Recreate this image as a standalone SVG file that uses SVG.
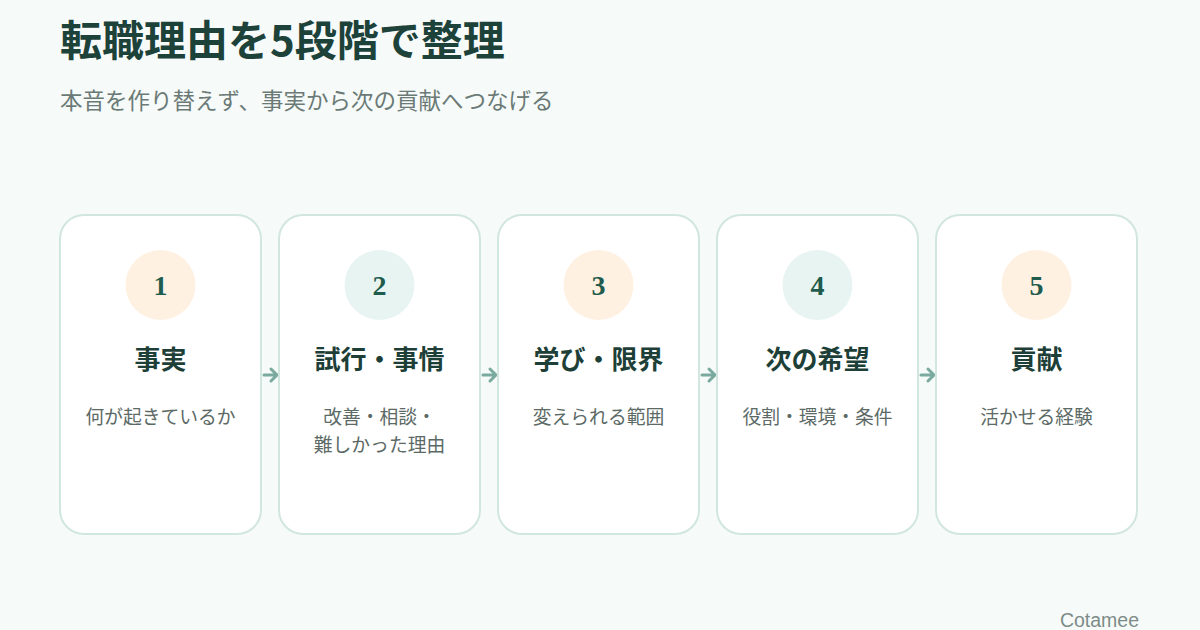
<svg xmlns="http://www.w3.org/2000/svg" width="1200" height="630" viewBox="0 0 1200 630">
<defs>
<style>
.card{fill:#ffffff;stroke:#d2e6e0;stroke-width:2}
.c1{fill:#fff1e2}
.c2{fill:#e7f4f1}
.num{font-family:"Liberation Serif","Noto Sans CJK JP",serif;font-weight:bold;font-size:28px;fill:#1f5c4d;text-anchor:middle}
.ttl{font-family:"Liberation Serif","Noto Sans CJK JP",serif;font-weight:bold;font-size:26px;fill:#1d3f37;text-anchor:middle}
.sub{font-family:"Liberation Serif","Noto Sans CJK JP",serif;font-size:18.8px;fill:#5c6a66;text-anchor:middle}
.arr{stroke:#7aa99d;stroke-width:3;fill:none;stroke-linecap:round;stroke-linejoin:round}
</style>
</defs>
<rect width="1200" height="630" fill="#f6faf9"/>
<text x="60" y="56" font-family="'Noto Sans CJK JP',sans-serif" font-weight="bold" font-size="42" fill="#1d4239">転職理由を5段階で整理</text>
<text x="60" y="109" font-family="'Noto Sans CJK JP',sans-serif" font-size="22.5" fill="#6b7a76">本音を作り替えず、事実から次の貢献へつなげる</text>
<g id="connectors">
<path class="arr" d="M264 375H276M271 369L277 375L271 381"/>
<path class="arr" d="M483 375H495M490 369L496 375L490 381"/>
<path class="arr" d="M702 375H714M709 369L715 375L709 381"/>
<path class="arr" d="M921 375H933M928 369L934 375L928 381"/>
</g>
<g id="step1">
<rect class="card" x="60" y="215" width="201" height="319" rx="24"/>
<circle class="c1" cx="160.5" cy="285" r="35"/>
<text class="num" x="160.5" y="295">1</text>
<text class="ttl" x="160.5" y="369">事実</text>
<text class="sub" x="160.5" y="424">何が起きているか</text>
</g>
<g id="step2">
<rect class="card" x="279" y="215" width="201" height="319" rx="24"/>
<circle class="c2" cx="379.5" cy="285" r="35"/>
<text class="num" x="379.5" y="295">2</text>
<text class="ttl" x="379.5" y="369">試行・事情</text>
<text class="sub" x="379.5" y="424">改善・相談・</text>
<text class="sub" x="379.5" y="452">難しかった理由</text>
</g>
<g id="step3">
<rect class="card" x="498" y="215" width="201" height="319" rx="24"/>
<circle class="c1" cx="598.5" cy="285" r="35"/>
<text class="num" x="598.5" y="295">3</text>
<text class="ttl" x="598.5" y="369">学び・限界</text>
<text class="sub" x="598.5" y="424">変えられる範囲</text>
</g>
<g id="step4">
<rect class="card" x="717" y="215" width="201" height="319" rx="24"/>
<circle class="c2" cx="817.5" cy="285" r="35"/>
<text class="num" x="817.5" y="295">4</text>
<text class="ttl" x="817.5" y="369">次の希望</text>
<text class="sub" x="817.5" y="424">役割・環境・条件</text>
</g>
<g id="step5">
<rect class="card" x="936" y="215" width="201" height="319" rx="24"/>
<circle class="c1" cx="1036.5" cy="285" r="35"/>
<text class="num" x="1036.5" y="295">5</text>
<text class="ttl" x="1036.5" y="369">貢献</text>
<text class="sub" x="1036.5" y="424">活かせる経験</text>
</g>
<text x="1139" y="627" text-anchor="end" font-family="'Liberation Sans',sans-serif" font-size="19.5" fill="#7d8c88">Cotamee</text>
</svg>
